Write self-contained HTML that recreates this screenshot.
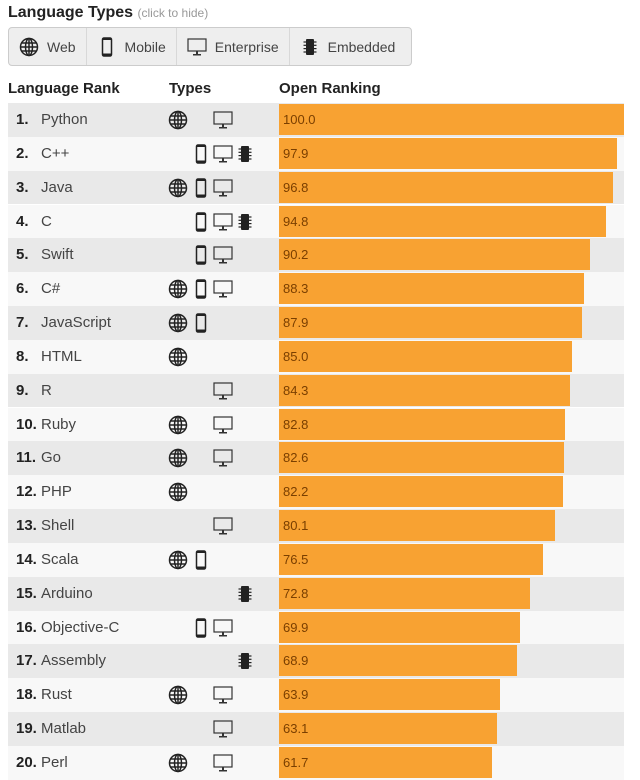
<!DOCTYPE html>
<html><head><meta charset="utf-8"><style>
body{margin:0;width:640px;height:780px;background:#fff;font-family:"Liberation Sans",Arial,sans-serif;position:relative;overflow:hidden;color:#333}
.a{position:absolute}
.t{left:8px;top:4px;font-size:16px;font-weight:bold;color:#222}
.t span{font-weight:normal;font-size:12px;color:#999}
.leg{left:8px;top:27px;width:402px;height:37px;border:1px solid #ccc;border-radius:4px;background:#eee;display:flex;font-size:14px;color:#444}
.leg div{display:flex;align-items:center;padding:0 10px;border-right:1px solid #d8d8d8;gap:8px}
.leg div:last-child{border:none}
.h{top:80px;font-size:15px;font-weight:bold;color:#222}
.r{left:8px;width:616px;height:33.8px;font-size:15px}
.r.o{background:#e9e9e9}.r.e{background:#f8f8f8}
.r b{position:absolute;left:8px;top:8px;color:#222}
.r .n{position:absolute;left:33px;top:8px;color:#444}
.bar{position:absolute;left:271px;top:1px;height:31px;background:#f8a232;font-size:13px;color:#7a3f00;line-height:31px;padding-left:4px;box-sizing:border-box}
.ic{position:absolute;top:7px;width:20px;height:20px}
</style></head><body>
<svg width="0" height="0" style="position:absolute">
<symbol id="g" viewBox="0 0 20 20"><g fill="none" stroke="#222" stroke-width="1.5"><circle cx="10" cy="10" r="8.5"/><ellipse cx="10" cy="10" rx="3.5" ry="8.5"/><line x1="10" y1="1.5" x2="10" y2="18.5"/><line x1="1.5" y1="10" x2="18.5" y2="10"/><line x1="3" y1="6" x2="17" y2="6"/><line x1="3" y1="14" x2="17" y2="14"/></g></symbol>
<symbol id="p" viewBox="0 0 20 20"><rect x="5.5" y="1" width="9" height="18" rx="1.5" fill="none" stroke="#222" stroke-width="1.5"/><rect x="5.5" y="1" width="9" height="2" fill="#222"/><rect x="5.5" y="16.5" width="9" height="2.5" fill="#222"/></symbol>
<symbol id="m" viewBox="0 0 20 20"><rect x="1" y="2" width="18" height="12" fill="none" stroke="#333" stroke-width="1.2"/><rect x="9" y="14" width="2" height="3" fill="#333"/><rect x="6" y="17" width="8" height="1.5" fill="#333"/></symbol>
<symbol id="c" viewBox="0 0 20 20"><rect x="6" y="2" width="8" height="16" rx="1" fill="#222"/><g stroke="#222" stroke-width="1.2"><line x1="3.5" y1="5" x2="16.5" y2="5"/><line x1="3.5" y1="8.3" x2="16.5" y2="8.3"/><line x1="3.5" y1="11.6" x2="16.5" y2="11.6"/><line x1="3.5" y1="15" x2="16.5" y2="15"/></g></symbol>
</svg>
<div class="a t">Language Types <span>(click to hide)</span></div>
<div class="a leg">
<div><svg width="20" height="20"><use href="#g"/></svg>Web</div>
<div><svg width="20" height="20"><use href="#p"/></svg>Mobile</div>
<div><svg width="20" height="20"><use href="#m"/></svg>Enterprise</div>
<div><svg width="20" height="20"><use href="#c"/></svg>Embedded</div>
</div>
<div class="a h" style="left:8px">Language Rank</div>
<div class="a h" style="left:169px">Types</div>
<div class="a h" style="left:279px">Open Ranking</div>

<div class="a r o" style="top:103px"><b>1.</b><span class="n">Python</span><svg class="ic" style="left:160px"><use href="#g"/></svg><svg class="ic" style="left:205px"><use href="#m"/></svg><div class="bar" style="width:345px">100.0</div></div>
<div class="a r e" style="top:136.8px"><b>2.</b><span class="n">C++</span><svg class="ic" style="left:183px"><use href="#p"/></svg><svg class="ic" style="left:205px"><use href="#m"/></svg><svg class="ic" style="left:227px"><use href="#c"/></svg><div class="bar" style="width:337.8px">97.9</div></div>
<div class="a r o" style="top:170.7px"><b>3.</b><span class="n">Java</span><svg class="ic" style="left:160px"><use href="#g"/></svg><svg class="ic" style="left:183px"><use href="#p"/></svg><svg class="ic" style="left:205px"><use href="#m"/></svg><div class="bar" style="width:334px">96.8</div></div>
<div class="a r e" style="top:204.5px"><b>4.</b><span class="n">C</span><svg class="ic" style="left:183px"><use href="#p"/></svg><svg class="ic" style="left:205px"><use href="#m"/></svg><svg class="ic" style="left:227px"><use href="#c"/></svg><div class="bar" style="width:327px">94.8</div></div>
<div class="a r o" style="top:238.4px"><b>5.</b><span class="n">Swift</span><svg class="ic" style="left:183px"><use href="#p"/></svg><svg class="ic" style="left:205px"><use href="#m"/></svg><div class="bar" style="width:311.2px">90.2</div></div>
<div class="a r e" style="top:272.2px"><b>6.</b><span class="n">C#</span><svg class="ic" style="left:160px"><use href="#g"/></svg><svg class="ic" style="left:183px"><use href="#p"/></svg><svg class="ic" style="left:205px"><use href="#m"/></svg><div class="bar" style="width:304.6px">88.3</div></div>
<div class="a r o" style="top:306px"><b>7.</b><span class="n">JavaScript</span><svg class="ic" style="left:160px"><use href="#g"/></svg><svg class="ic" style="left:183px"><use href="#p"/></svg><div class="bar" style="width:303.3px">87.9</div></div>
<div class="a r e" style="top:339.9px"><b>8.</b><span class="n">HTML</span><svg class="ic" style="left:160px"><use href="#g"/></svg><div class="bar" style="width:293.3px">85.0</div></div>
<div class="a r o" style="top:373.7px"><b>9.</b><span class="n">R</span><svg class="ic" style="left:205px"><use href="#m"/></svg><div class="bar" style="width:290.8px">84.3</div></div>
<div class="a r e" style="top:407.6px"><b>10.</b><span class="n">Ruby</span><svg class="ic" style="left:160px"><use href="#g"/></svg><svg class="ic" style="left:205px"><use href="#m"/></svg><div class="bar" style="width:285.7px">82.8</div></div>
<div class="a r o" style="top:441.4px"><b>11.</b><span class="n">Go</span><svg class="ic" style="left:160px"><use href="#g"/></svg><svg class="ic" style="left:205px"><use href="#m"/></svg><div class="bar" style="width:285px">82.6</div></div>
<div class="a r e" style="top:475.2px"><b>12.</b><span class="n">PHP</span><svg class="ic" style="left:160px"><use href="#g"/></svg><div class="bar" style="width:283.6px">82.2</div></div>
<div class="a r o" style="top:509.1px"><b>13.</b><span class="n">Shell</span><svg class="ic" style="left:205px"><use href="#m"/></svg><div class="bar" style="width:276.3px">80.1</div></div>
<div class="a r e" style="top:542.9px"><b>14.</b><span class="n">Scala</span><svg class="ic" style="left:160px"><use href="#g"/></svg><svg class="ic" style="left:183px"><use href="#p"/></svg><div class="bar" style="width:263.9px">76.5</div></div>
<div class="a r o" style="top:576.8px"><b>15.</b><span class="n">Arduino</span><svg class="ic" style="left:227px"><use href="#c"/></svg><div class="bar" style="width:251.2px">72.8</div></div>
<div class="a r e" style="top:610.6px"><b>16.</b><span class="n">Objective-C</span><svg class="ic" style="left:183px"><use href="#p"/></svg><svg class="ic" style="left:205px"><use href="#m"/></svg><div class="bar" style="width:241.2px">69.9</div></div>
<div class="a r o" style="top:644.4px"><b>17.</b><span class="n">Assembly</span><svg class="ic" style="left:227px"><use href="#c"/></svg><div class="bar" style="width:237.7px">68.9</div></div>
<div class="a r e" style="top:678.3px"><b>18.</b><span class="n">Rust</span><svg class="ic" style="left:160px"><use href="#g"/></svg><svg class="ic" style="left:205px"><use href="#m"/></svg><div class="bar" style="width:220.5px">63.9</div></div>
<div class="a r o" style="top:712.1px"><b>19.</b><span class="n">Matlab</span><svg class="ic" style="left:205px"><use href="#m"/></svg><div class="bar" style="width:217.7px">63.1</div></div>
<div class="a r e" style="top:746px"><b>20.</b><span class="n">Perl</span><svg class="ic" style="left:160px"><use href="#g"/></svg><svg class="ic" style="left:205px"><use href="#m"/></svg><div class="bar" style="width:212.9px">61.7</div></div>
</body></html>
